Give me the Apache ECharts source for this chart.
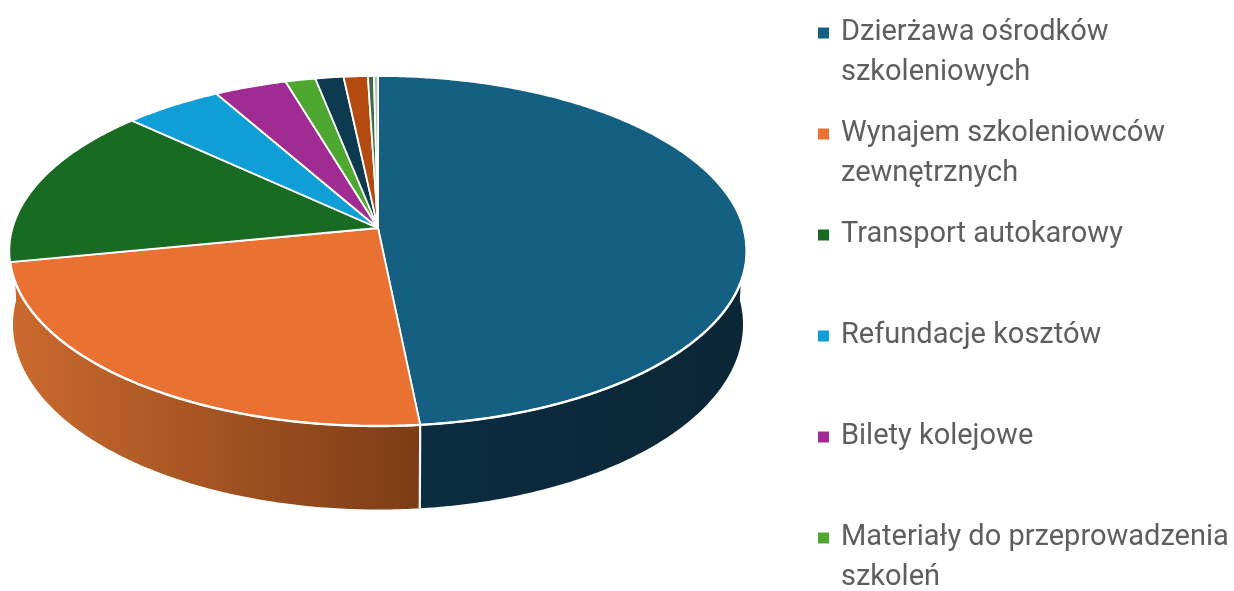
<!DOCTYPE html>
<html>
<head>
<meta charset="utf-8">
<style>html,body{margin:0;padding:0;background:#fff}#c{width:1234px;height:591px}</style>
<script src="https://cdn.jsdelivr.net/npm/echarts@6/dist/echarts.min.js"></script>
</head>
<body>
<div id="c"></div>
<script>
// Names of the six slices visible in the legend; the last four are cut off in the reference.
const legendNames = [
  'Dzierżawa ośrodków\nszkoleniowych',
  'Wynajem szkoleniowców\nzewnętrznych',
  'Transport autokarowy',
  'Refundacje kosztów',
  'Bilety kolejowe',
  'Materiały do przeprowadzenia\nszkoleń'
];
const unlistedNames = ['(7)', '(8)', '(9)', '(10)'];
const sliceValues = [48.4, 23.5, 15.0, 4.9, 3.6, 1.5, 1.4, 1.2, 0.3, 0.2];
const sliceColors = ['#156082', '#E97132', '#196B24', '#0F9ED5', '#A02B93', '#4EA72E',
                     '#0D3A4E', '#B34A10', '#3D6B45', '#A9C2B0'];
const sideColors = {
  0: ['#0C2C40', '#0B2636'],
  1: ['#CB6A2E', '#7C3C16']
};

const names = legendNames.concat(unlistedNames);
const total = sliceValues.reduce((a, b) => a + b, 0);

// Perspective projection of a unit disc seen from above
const P = { apexX: 378, apexY: 228, bx: 365.5, by: 172, k: 0.1314 };
function rim(angle) {
  const X = Math.sin(angle), Y = Math.cos(angle), d = 1 + P.k * Y;
  return [P.apexX + P.bx * X / d, P.apexY - P.by * Y / d];
}
function lower(pt) {
  const depth = 73.5 + 10 * (pt[1] - 250) / 176;
  return [P.apexX + (pt[0] - P.apexX) * 0.99, pt[1] + depth];
}
function arc(a0, a1) {
  const n = Math.max(2, Math.ceil((a1 - a0) / 0.01));
  const out = [];
  for (let i = 0; i <= n; i++) out.push(rim(a0 + (a1 - a0) * i / n));
  return out;
}
function sliceRange(idx) {
  let s = 0;
  for (let i = 0; i < idx; i++) s += sliceValues[i];
  const f = 2 * Math.PI / total;
  return [s * f, (s + sliceValues[idx]) * f];
}

function renderSlice(idx) {
  const [a0, a1] = sliceRange(idx);
  const pts = arc(a0, a1);
  const children = [];
  const stops = sideColors[idx];
  if (stops) {
    // Front wall: the blue wall starts at the right silhouette,
    // the orange wall runs on to the left silhouette.
    const wallStart = Math.max(a0, Math.PI / 2);
    const wallEnd = Math.max(a1, a1 > Math.PI ? 1.5 * Math.PI : a1);
    const wall = arc(wallStart, wallEnd);
    const xs = wall.map(p => p[0]);
    children.push({
      type: 'polygon', z2: 1,
      shape: { points: wall.concat(wall.map(lower).reverse()) },
      style: {
        fill: new echarts.graphic.LinearGradient(Math.min(...xs), 0, Math.max(...xs), 0,
          [{ offset: 0, color: stops[0] }, { offset: 1, color: stops[1] }], true)
      }
    });
    if (a0 > 0) {
      const b = lower(pts[0]);
      children.push({
        type: 'line', z2: 2,
        shape: { x1: pts[0][0], y1: pts[0][1], x2: b[0], y2: b[1] },
        style: { stroke: '#fff', lineWidth: 2.2 }
      });
    }
    children.push({
      type: 'polyline', z2: 30,
      shape: { points: arc(wallStart, a1) },
      style: { fill: 'none', stroke: '#fff', lineWidth: 2.4 }
    });
  }
  children.push({
    type: 'polygon', z2: 20,
    shape: { points: [[P.apexX, P.apexY]].concat(pts) },
    style: { fill: sliceColors[idx], stroke: '#fff', lineWidth: 1.8, lineJoin: 'round' }
  });
  return { type: 'group', children };
}

const series = names.map((name, idx) => ({
  type: 'custom',
  name,
  coordinateSystem: 'none',
  silent: true,
  animation: false,
  itemStyle: { color: sliceColors[idx] },
  data: [[sliceValues[idx]]],
  renderItem: () => renderSlice(idx)
}));

const chart = echarts.init(document.getElementById('c'), null, { renderer: 'canvas' });
chart.setOption({
  animation: false,
  backgroundColor: '#fff',
  legend: {
    orient: 'vertical',
    left: 818,
    top: -29,
    height: 700,
    padding: 0,
    itemGap: -23,
    itemWidth: 11,
    itemHeight: 11,
    icon: 'rect',
    selectedMode: false,
    data: legendNames,
    formatter: n => (n.indexOf('\n') >= 0 ? '\n' + n : '\n' + n + '\n'),
    textStyle: {
      fontFamily: 'Roboto',
      fontSize: 29,
      lineHeight: 40,
      color: '#5E5E5E',
      padding: [4, 0, 0, 7]
    }
  },
  series
});
</script>
</body>
</html>
